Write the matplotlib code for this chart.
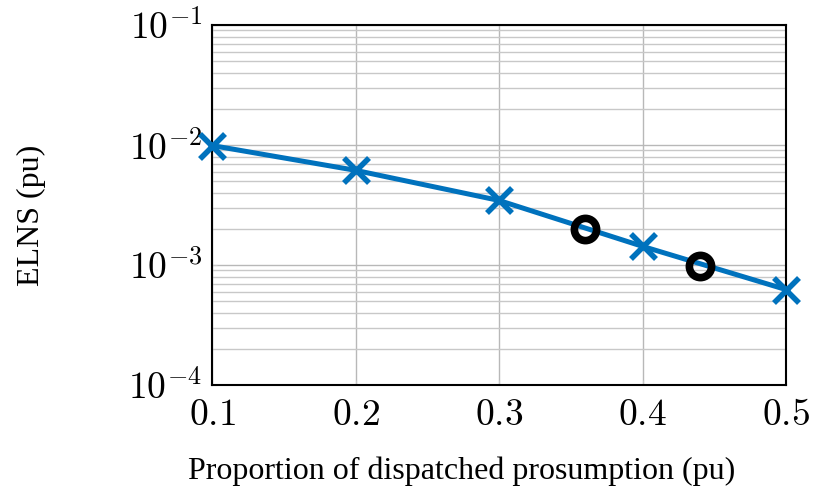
import matplotlib.pyplot as plt
import matplotlib.ticker as ticker

plt.rcParams['mathtext.fontset'] = 'cm'

# proportion of dispatched prosumption (pu) and ELNS (pu)
proportion = [0.1, 0.2, 0.3, 0.4, 0.5]
elns = [0.0099, 0.00615, 0.00345, 0.00143, 0.000624]

# highlighted operating points
circle_x = [0.36, 0.44]
circle_y = [0.00198, 0.00099]

xticks = [0.1, 0.2, 0.3, 0.4, 0.5]

fig = plt.figure(figsize=(8.18, 4.91), dpi=100)
ax = fig.add_axes([0.2592, 0.2159, 0.7017, 0.7332])

ax.plot(proportion, elns, color='#0072BD', linewidth=3.6, marker='x',
        markersize=18, markeredgewidth=4, zorder=3, clip_on=False)
ax.plot(circle_x, circle_y, linestyle='none', marker='o', markersize=16,
        markerfacecolor='none', markeredgecolor='black', markeredgewidth=5.5,
        zorder=4, clip_on=False)

ax.set_yscale('log')
ax.set_xlim(0.1, 0.5)
ax.set_ylim(1e-4, 1e-1)
ax.set_xticks(xticks)
ax.set_xticklabels(['$%.1f$' % v for v in xticks])
ax.yaxis.set_major_locator(ticker.FixedLocator([1e-4, 1e-3, 1e-2, 1e-1]))
ax.set_yticklabels(['$10^{-4}$', '$10^{-3}$', '$10^{-2}$', '$10^{-1}$'])
ax.yaxis.set_minor_locator(ticker.LogLocator(base=10, subs=range(2, 10)))
ax.yaxis.set_minor_formatter(ticker.NullFormatter())

ax.grid(True, which='major', color='#b8b8b8', linewidth=1.0)
ax.grid(True, which='minor', axis='y', color='#c8c8c8', linewidth=1.0)
ax.set_axisbelow(True)

ax.tick_params(which='both', direction='in', color='#c8c8c8', labelsize=27)
ax.tick_params(axis='y', pad=7)
ax.tick_params(axis='x', pad=9)
ax.tick_params(which='minor', length=3)
for s in ax.spines.values():
    s.set_linewidth(1.5)

ax.set_xlabel('Proportion of dispatched prosumption (pu)', family='Liberation Serif',
              fontsize=23)
ax.set_ylabel('ELNS (pu)', family='Liberation Serif', fontsize=23)
ax.xaxis.set_label_coords(0.434, -0.2)
ax.yaxis.set_label_coords(-0.29, 0.472)

fig.savefig('out.png', dpi=100)
